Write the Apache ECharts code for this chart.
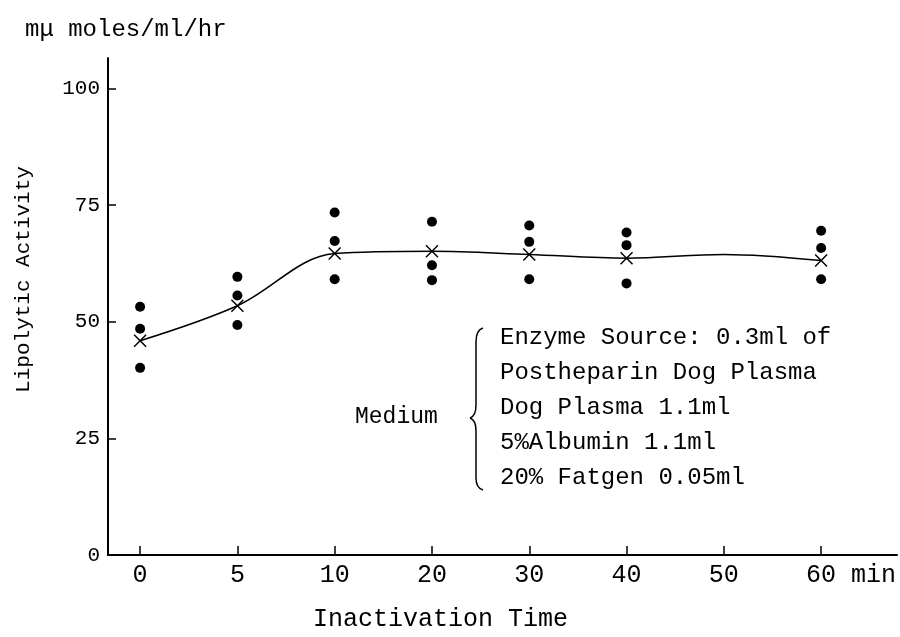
<!DOCTYPE html>
<html>
<head>
<meta charset="utf-8">
<script src="https://cdn.jsdelivr.net/npm/echarts@6/dist/echarts.min.js"></script>
<style>
html,body{margin:0;padding:0;background:#fff;}
#chart{width:900px;height:637px;}
</style>
</head>
<body>
<div id="chart"></div>
<script>
// ---- data ----
const categories = ['0', '5', '10', '20', '30', '40', '50', '60'];
const unitLabel = 'min';
const replicateHigh = [53.2, 59.6, 73.4, 71.4, 70.6, 69.1, null, 69.5];
const replicateMid  = [48.5, 55.6, 67.3, 62.1, 67.1, 66.4, null, 65.8];
const replicateLow  = [40.1, 49.3, 59.1, 58.9, 59.1, 58.2, null, 59.1];
const meanValues    = [45.9, 53.4, 64.6, 65.1, 64.4, 63.6, null, 63.1];
const curveValues   = [45.9, 53.4, 64.6, 65.1, 64.4, 63.6, 64.4, 63.1];
const yTicks = [0, 25, 50, 75, 100];
const titleText = 'mμ moles/ml/hr';
const yName = 'Lipolytic Activity';
const xName = 'Inactivation Time';
const mediumLabel = 'Medium';
const annotationLines = [
  'Enzyme Source: 0.3ml of',
  'Postheparin Dog Plasma',
  'Dog Plasma 1.1ml',
  '5%Albumin 1.1ml',
  '20% Fatgen 0.05ml'
];

// ---- build chart ----
const FONT = "'Liberation Mono', 'DejaVu Sans Mono', monospace";
const idx = categories.map((c, i) => i);
const dots = [];
[replicateHigh, replicateMid, replicateLow].forEach(arr => {
  arr.forEach((v, i) => { if (v != null) dots.push([i, v]); });
});
const means = [];
meanValues.forEach((v, i) => { if (v != null) means.push([i, v]); });
const curve = curveValues.map((v, i) => [i, v]);

const X_PATH = 'path://M0,8 L8,0 L50,42 L92,0 L100,8 L58,50 L100,92 L92,100 L50,58 L8,100 L0,92 L42,50 Z';
const xFs = 25;
const padW = (' ' + unitLabel).length * 0.6 * xFs;

const braceStyle = {stroke: '#000', lineWidth: 1.5, fill: null};
const brace = [
  {type: 'bezierCurve', shape: {x1: 483, y1: 328, cpx1: 476, cpy1: 330, x2: 476, y2: 342}, style: braceStyle},
  {type: 'line', shape: {x1: 476, y1: 342, x2: 476, y2: 405}, style: braceStyle},
  {type: 'bezierCurve', shape: {x1: 476, y1: 405, cpx1: 476, cpy1: 416, x2: 470, y2: 418}, style: braceStyle},
  {type: 'bezierCurve', shape: {x1: 470, y1: 418, cpx1: 476, cpy1: 420, x2: 476, y2: 431}, style: braceStyle},
  {type: 'line', shape: {x1: 476, y1: 431, x2: 476, y2: 478}, style: braceStyle},
  {type: 'bezierCurve', shape: {x1: 476, y1: 478, cpx1: 476, cpy1: 488, x2: 483, y2: 490}, style: braceStyle}
];

const chart = echarts.init(document.getElementById('chart'), null, {renderer: 'canvas'});
chart.setOption({
  backgroundColor: '#ffffff',
  animation: false,
  title: {
    text: titleText,
    left: 20, top: 13,
    textStyle: {fontFamily: FONT, fontSize: 24, fontWeight: 'normal', color: '#000'}
  },
  grid: {left: 108, right: 3, top: 58, bottom: 82},
  xAxis: {
    type: 'value',
    min: -0.33, max: 7.78,
    splitLine: {show: false},
    axisLine: {show: true, onZero: false, lineStyle: {color: '#000', width: 2}},
    axisTick: {show: true, inside: true, length: 9, customValues: idx, lineStyle: {color: '#000', width: 1.5}},
    axisLabel: {
      customValues: idx,
      margin: 8,
      fontFamily: FONT, fontSize: xFs, color: '#000',
      formatter: function (v) {
        const i = Math.round(v);
        if (i === categories.length - 1) return '{pad|}' + categories[i] + '{u| ' + unitLabel + '}';
        return categories[i];
      },
      rich: {
        pad: {width: padW, fontFamily: FONT, fontSize: xFs},
        u: {fontFamily: FONT, fontSize: xFs, color: '#000'}
      }
    },
    name: xName,
    nameLocation: 'middle',
    nameGap: 52,
    nameTextStyle: {fontFamily: FONT, fontSize: 25, color: '#000', padding: [0, 124, 0, 0]}
  },
  yAxis: {
    type: 'value',
    min: 0, max: 106.5, interval: 25,
    splitLine: {show: false},
    axisLine: {show: true, onZero: false, lineStyle: {color: '#000', width: 2}},
    axisTick: {show: true, inside: true, length: 8, customValues: yTicks, lineStyle: {color: '#000', width: 1.5}},
    axisLabel: {
      customValues: yTicks,
      margin: 8, fontFamily: FONT, fontSize: 21, color: '#000',
      formatter: function (v) { return String(v); }
    },
    name: yName,
    nameLocation: 'middle',
    nameRotate: 90,
    nameGap: 74,
    nameTextStyle: {fontFamily: FONT, fontSize: 21, color: '#000', padding: [0, 0, 0, 54]}
  },
  series: [
    {
      type: 'line',
      data: curve,
      smooth: 0.35,
      symbol: 'none',
      lineStyle: {color: '#000', width: 1.5},
      z: 2
    },
    {
      type: 'scatter',
      data: dots,
      symbol: 'circle',
      symbolSize: 10,
      itemStyle: {color: '#000', opacity: 1},
      z: 3
    },
    {
      type: 'scatter',
      data: means,
      symbol: X_PATH,
      symbolSize: 13,
      itemStyle: {color: '#000', opacity: 1},
      z: 4
    }
  ],
  graphic: [
    {
      type: 'text', left: 355, top: 405,
      style: {text: mediumLabel, fontFamily: FONT, fontSize: 23, fill: '#000'}
    }
  ].concat(brace).concat([
    {
      type: 'text', left: 500, top: 320,
      style: {text: annotationLines.join('\n'), fontFamily: FONT, fontSize: 24, lineHeight: 35, fill: '#000'}
    }
  ])
});
</script>
</body>
</html>
